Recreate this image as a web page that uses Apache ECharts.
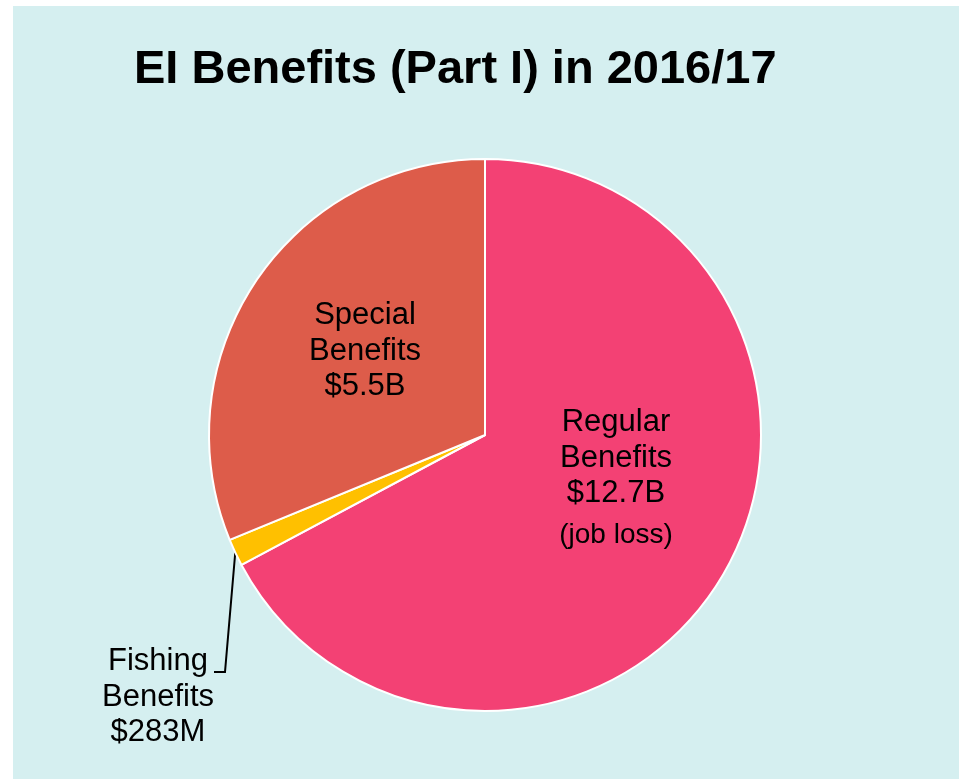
<!DOCTYPE html>
<html>
<head>
<meta charset="utf-8">
<script src="https://cdn.jsdelivr.net/npm/echarts@6/dist/echarts.min.js"></script>
<style>
html,body{margin:0;padding:0;background:#fff;}
#chart{width:959px;height:779px;}
</style>
</head>
<body>
<div id="chart"></div>
<script>
// Data
var categories = ['Regular Benefits', 'Fishing Benefits', 'Special Benefits'];
// share of the pie (percent) as drawn in the picture
var pieShare = [67.2, 1.6, 31.2];
// amounts as printed on the labels
var amountText = ['$12.7B', '$283M', '$5.5B'];
var labelLines = [['Regular', 'Benefits'], ['Fishing', 'Benefits'], ['Special', 'Benefits']];
var noteText = ['(job loss)', '', ''];
var colors = ['#F34174', '#FFC000', '#DD5C4A'];

var chart = echarts.init(document.getElementById('chart'));

var labelCenters = [[616, 482], [158, 697], [365, 351]];

var data = categories.map(function (c, i) {
  var item = { name: c, value: pieShare[i], itemStyle: { color: colors[i] } };
  var txt = '{a|' + labelLines[i][0] + '}\n{a|' + labelLines[i][1] + '}\n{a|' + amountText[i] + '}';
  if (noteText[i]) txt += '\n{b|' + noteText[i] + '}';
  item.label = {
    show: true,
    position: i === 1 ? 'outside' : 'inside',
    formatter: txt
  };
  item.labelLine = { show: i === 1 };
  return item;
});

chart.setOption({
  backgroundColor: '#ffffff',
  animation: false,
  graphic: [{
    type: 'rect', z: -10, silent: true,
    shape: { x: 13, y: 6, width: 946, height: 773 },
    style: { fill: '#D5EFF0' }
  }],
  title: {
    text: 'EI Benefits (Part I) in 2016/17',
    left: 134, top: 47, padding: 0,
    textStyle: { fontFamily: 'Liberation Sans', fontWeight: 'bold', fontSize: 47, lineHeight: 47, color: '#000' }
  },
  series: [{
    type: 'pie',
    center: [485, 435],
    radius: 276,
    startAngle: 90,
    clockwise: true,
    avoidLabelOverlap: false,
    itemStyle: { borderColor: '#ffffff', borderWidth: 2 },
    label: {
      color: '#000',
      fontFamily: 'Liberation Sans',
      align: 'center',
      rich: {
        a: { fontFamily: 'Liberation Sans', fontSize: 31, lineHeight: 35.5, color: '#000', align: 'center' },
        b: { fontFamily: 'Liberation Sans', fontSize: 28, lineHeight: 48, color: '#000', align: 'center' }
      }
    },
    labelLine: { lineStyle: { color: '#000', width: 2 }, smooth: false },
    emphasis: { disabled: true },
    labelLayout: function (params) {
      var i = params.dataIndex;
      var c = labelCenters[i];
      var res = { x: c[0], y: c[1], align: 'center', verticalAlign: 'middle' };
      if (i === 1 && params.labelLinePoints) {
        var p0 = params.labelLinePoints[0];
        res.labelLinePoints = [[p0[0], p0[1]], [225, 672], [214, 672]];
      }
      return res;
    },
    data: data
  }]
});
</script>
</body>
</html>
